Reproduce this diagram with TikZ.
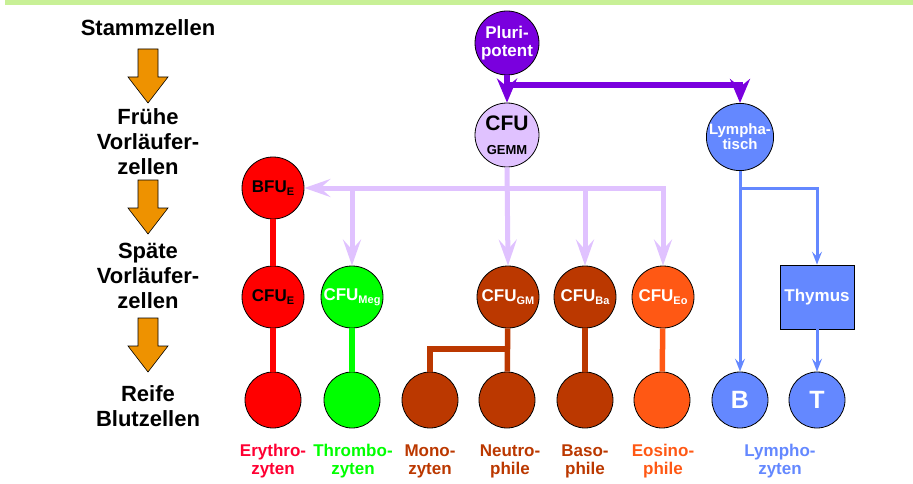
\documentclass[tikz,border=0pt]{standalone}
\usepackage{fontspec}
\setmainfont{Liberation Sans}
\definecolor{hema_band}{RGB}{200, 240, 150}
\definecolor{hema_orange}{RGB}{238, 146, 0}
\definecolor{hema_purple}{RGB}{122, 0, 222}
\definecolor{hema_lilac}{RGB}{224, 194, 255}
\definecolor{hema_blue}{RGB}{100, 136, 255}
\definecolor{hema_red}{RGB}{255, 0, 0}
\definecolor{hema_ery}{RGB}{255, 0, 51}
\definecolor{hema_green}{RGB}{0, 255, 0}
\definecolor{hema_brown}{RGB}{187, 56, 0}
\definecolor{hema_eo}{RGB}{255, 88, 20}
\usepackage{tikz}
\usetikzlibrary{arrows.meta, positioning, calc}
\newcommand{\cellsub}[1]{\raisebox{-0.35ex}{\fontsize{11}{11}\selectfont #1}}

\begin{document}
\begin{tikzpicture}[x=1pt, y=-1pt,
    cell/.style={circle, draw=black, line width=0.8pt, minimum size=62pt, inner sep=0pt,
                 align=center, font=\fontsize{17}{18}\selectfont\bfseries},
    ripe/.style={cell, minimum size=56pt},
    stage/.style={align=center, font=\fontsize{22}{25}\selectfont\bfseries},
    kind/.style={align=center, font=\fontsize{17}{18}\selectfont\bfseries},
    purparr/.style={draw=hema_purple, line width=5.5pt, -{Stealth[length=24pt,width=20pt,inset=8pt]}},
    lilacarr/.style={draw=hema_lilac, line width=5pt, -{Stealth[length=26pt,width=18pt,inset=10pt]}},
    bluearr/.style={draw=hema_blue, line width=3pt, -{Stealth[length=13pt,width=10pt,inset=5pt]}},
    link/.style={line width=5.5pt}]
    \useasboundingbox (0,0) rectangle (913,484);
    \fill[hema_band] (5,0) rectangle (913,5);

    % stages on the left
    \node[stage] (stamm) at (148,28)  {Stammzellen};
    \node[stage] (frueh) at (148,142) {Frühe\\Vorläufer-\\zellen};
    \node[stage] (spaet) at (148,276) {Späte\\Vorläufer-\\zellen};
    \node[stage] (reif)  at (148,406) {Reife\\Blutzellen};
    \foreach \y in {49,180,318}
      \filldraw[fill=hema_orange, draw=black, line width=0.6pt]
        (138,\y) -- (158,\y) -- (158,\y+28) -- (168,\y+28) -- (148,\y+54)
        -- (128,\y+28) -- (138,\y+28) -- cycle;

    % stem and early cells
    \node[cell, fill=hema_purple, text=white, minimum size=64pt] (pluri) at (507,43) {Pluri-\\potent};
    \node[cell, fill=hema_lilac, minimum size=64pt, font=\fontsize{21}{22}\selectfont\bfseries] (gemm) at (507,135)
      {CFU\\[2pt]{\fontsize{13}{14}\selectfont GEMM}};
    \node[cell, fill=hema_blue, text=white, minimum size=66pt, font=\fontsize{15}{15}\selectfont\bfseries] (lympha) at (740,137)
      {Lympha-\\tisch};
    \node[cell, fill=hema_red] (bfu) at (273,188) {BFU\cellsub{E}};

    % late precursors
    \node[cell, fill=hema_red]                (cfue)   at (273,297) {CFU\cellsub{E}};
    \node[cell, fill=hema_green, text=white]  (cfumeg) at (352,297) {CFU\cellsub{Meg}};
    \node[cell, fill=hema_brown, text=white]  (cfugm)  at (508,297) {CFU\cellsub{GM}};
    \node[cell, fill=hema_brown, text=white]  (cfuba)  at (585,297) {CFU\cellsub{Ba}};
    \node[cell, fill=hema_eo, text=white]     (cfueo)  at (663,297) {CFU\cellsub{Eo}};
    \node[draw=black, line width=0.8pt, fill=hema_blue, text=white, minimum width=74pt, minimum height=64pt,
          font=\fontsize{17}{18}\selectfont\bfseries] (thymus) at (817,297) {Thymus};

    % mature cells
    \node[ripe, fill=hema_red]   (ery)   at (273,400) {};
    \node[ripe, fill=hema_green] (thr)   at (352,400) {};
    \node[ripe, fill=hema_brown] (mono)  at (430,400) {};
    \node[ripe, fill=hema_brown] (neu)   at (507,400) {};
    \node[ripe, fill=hema_brown] (baso)  at (585,400) {};
    \node[ripe, fill=hema_eo]    (eos)   at (662,400) {};
    \node[ripe, fill=hema_blue, text=white, font=\fontsize{25}{25}\selectfont\bfseries] (bcell) at (740,400) {B};
    \node[ripe, fill=hema_blue, text=white, font=\fontsize{25}{25}\selectfont\bfseries] (tcell) at (817,400) {T};

    \node[kind, text=hema_ery]   (lery)   at (273,461) {Erythro-\\zyten};
    \node[kind, text=hema_green] (lthr)   at (353,461) {Thrombo-\\zyten};
    \node[kind, text=hema_brown] (lmono)  at (430,461) {Mono-\\zyten};
    \node[kind, text=hema_brown] (lneu)   at (510,461) {Neutro-\\phile};
    \node[kind, text=hema_brown] (lbaso)  at (585,461) {Baso-\\phile};
    \node[kind, text=hema_eo]    (leos)   at (663,461) {Eosino-\\phile};
    \node[kind, text=hema_blue]  (llymph) at (780,461) {Lympho-\\zyten};

    % connectors
    \coordinate (psplit) at (507,85);
    \draw[purparr] (pluri.south) -- (gemm.north);
    \draw[purparr] (psplit) -| (lympha.north);

    \draw[lilacarr] (gemm.south) -- (cfugm.north);
    \draw[lilacarr, {Stealth[length=26pt,width=18pt,inset=10pt]}-{Stealth[length=26pt,width=18pt,inset=10pt]}]
      (bfu.east) -- (cfueo.north |- bfu.east) -- (cfueo.north);
    \foreach \n in {cfumeg, cfuba}
      \draw[lilacarr] (\n.north |- bfu.east) -- (\n.north);

    \draw[bluearr] (lympha.south) -- (bcell.north);
    \draw[bluearr] (lympha.south |- bfu.east) -| (thymus.north);
    \draw[bluearr] (thymus.south) -- (tcell.north);

    \draw[link, hema_red] (bfu) -- (cfue);
    \draw[link, hema_red] (cfue) -- (ery);
    \draw[link, hema_green] (cfumeg) -- (thr);
    \coordinate (gmsplit) at (508,349);
    \draw[link, hema_brown] (cfugm) -- (neu);
    \draw[link, hema_brown] (gmsplit) -| (mono.north);
    \draw[link, hema_brown] (cfuba) -- (baso);
    \draw[link, hema_eo] (cfueo) -- (eos);
\end{tikzpicture}
\end{document}
